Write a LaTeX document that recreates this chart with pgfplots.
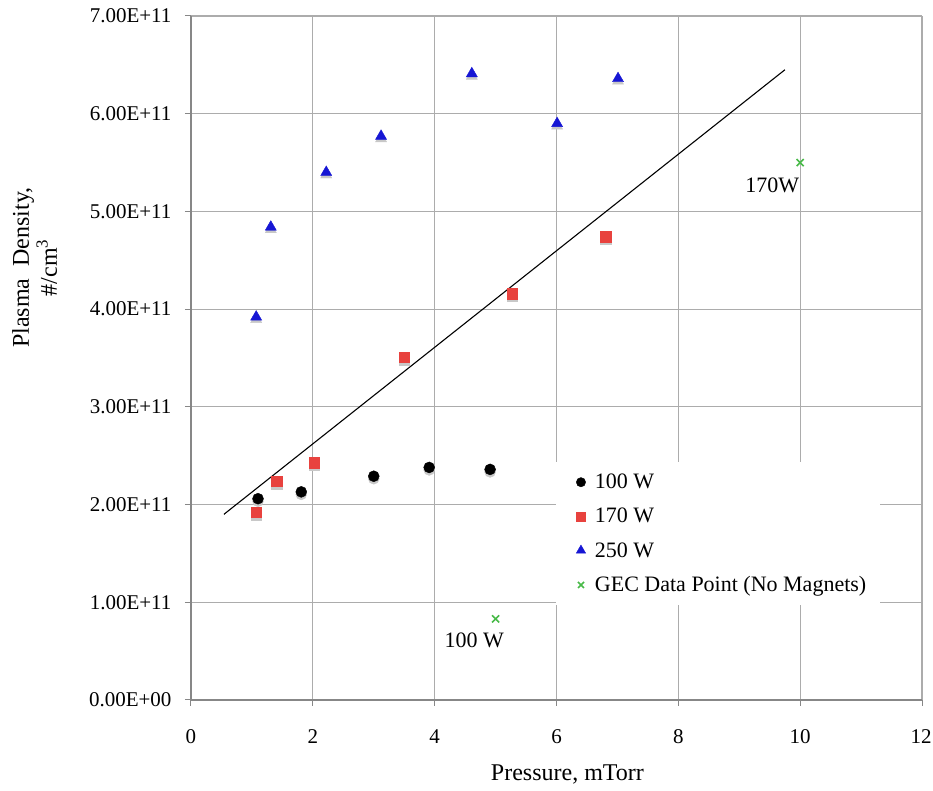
\documentclass[border=0pt]{standalone}
\usepackage{fontspec}
\setmainfont{Liberation Serif}
\usepackage{pgfplots}
\pgfplotsset{compat=1.18}

\definecolor{gridgray}{RGB}{172,172,172}
\definecolor{axgray}{RGB}{135,135,135}
\definecolor{red170}{RGB}{232,66,62}
\definecolor{blue250}{RGB}{22,22,212}
\definecolor{greengec}{RGB}{72,186,72}
\definecolor{shadowgray}{RGB}{200,200,200}

% measured densities, y in #/cm^3
\pgfplotstableread{
p      n
1.10   2.06e11
1.81   2.13e11
3.00   2.29e11
3.91   2.38e11
4.91   2.36e11
}\dataA
\pgfplotstableread{
p      n
1.07   1.92e11
1.41   2.24e11
2.02   2.43e11
3.50   3.51e11
5.27   4.16e11
6.81   4.74e11
}\dataB
\pgfplotstableread{
p      n
1.07   3.92e11
1.31   4.84e11
2.22   5.40e11
3.12   5.77e11
4.61   6.41e11
6.01   5.90e11
7.01   6.36e11
}\dataC
\pgfplotstableread{
p      n
5.00   0.83e11
10.00  5.50e11
}\dataGEC

\begin{document}
\begin{tikzpicture}
\useasboundingbox (-191pt,-91pt) rectangle (742pt,700pt);
\begin{axis}[
  scale only axis, width=731pt, height=684pt,
  xmin=0, xmax=12, ymin=0, ymax=7e11,
  xtick={0,2,4,6,8,10,12},
  xticklabels={0,2,4,6,8,10,\makebox[0pt]{\kern-2pt 12}},
  ytick={0,1e11,2e11,3e11,4e11,5e11,6e11,7e11},
  yticklabels={0.00E+00,1.00E+11,2.00E+11,3.00E+11,4.00E+11,5.00E+11,6.00E+11,7.00E+11},
  scaled y ticks=false,
  axis x line*=bottom, axis y line*=left,
  axis line style={-, axgray, line width=1.8pt},
  grid=major, major grid style={gridgray, line width=1.1pt},
  tick align=outside, major tick length=6pt,
  tick style={axgray, line width=1pt},
  ticklabel style={font=\fontsize{21}{24}\selectfont, text=black},
  xticklabel style={yshift=-20pt},
  yticklabel style={xshift=-10pt},
  xlabel={Pressure, mTorr},
  xlabel style={at={(axis description cs:0.515,0)}, anchor=base, yshift=-80pt,
                font=\fontsize{24}{28}\selectfont},
  ylabel={Plasma\ \ Density,\\\#/cm\textsuperscript{3}},
  ylabel style={at={(axis description cs:-0.214,0.632)}, anchor=center,
                align=center, font=\fontsize{24}{28}\selectfont},
  legend style={at={(axis description cs:0.499,0.348)}, anchor=north west,
                draw=none, fill=white, font=\fontsize{22}{26}\selectfont,
                inner xsep=12pt, inner ysep=10pt, row sep=14pt,
                cells={anchor=west}},
  legend image code/.code={%
    \path[draw=none, fill=none] (0pt,-1pt) rectangle (25pt,1pt);
    \draw[#1, /tikz/every mark/.append style={scale=0.85}] plot coordinates {(13pt,0pt)};},
]
% fitted trend line
\addplot[black, line width=1.1pt, forget plot] coordinates {(0.54,1.90e11) (9.75,6.45e11)};

% soft drop shadows under the markers
\addplot[only marks, mark=*, mark size=5.5pt, color=shadowgray, forget plot,
  every mark/.append style={yshift=-2.5pt}] table[x=p,y=n] {\dataA};
\addplot[only marks, mark=square*, mark size=5.3pt, color=shadowgray, forget plot,
  every mark/.append style={yshift=-2.5pt}] table[x=p,y=n] {\dataB};
\addplot[only marks, mark=triangle*, mark size=6.4pt, color=shadowgray, forget plot,
  every mark/.append style={yshift=-2.5pt}] table[x=p,y=n] {\dataC};

\addplot[only marks, mark=*, mark size=5.5pt, black] table[x=p,y=n] {\dataA};
\addlegendentry{100 W}
\addplot[only marks, mark=square*, mark size=5.3pt, color=red170] table[x=p,y=n] {\dataB};
\addlegendentry{170 W}
\addplot[only marks, mark=triangle*, mark size=6.4pt, color=blue250] table[x=p,y=n] {\dataC};
\addlegendentry{250 W}
\addplot[only marks, mark=x, mark size=5pt, color=greengec, line width=1.6pt] table[x=p,y=n] {\dataGEC};
\addlegendentry{GEC Data Point (No Magnets)}

\node[font=\fontsize{22}{26}\selectfont] at (axis cs:4.65,0.61e11) {100 W};
\node[font=\fontsize{22}{26}\selectfont] at (axis cs:9.54,5.27e11) {170W};
\end{axis}
\end{tikzpicture}
\end{document}
